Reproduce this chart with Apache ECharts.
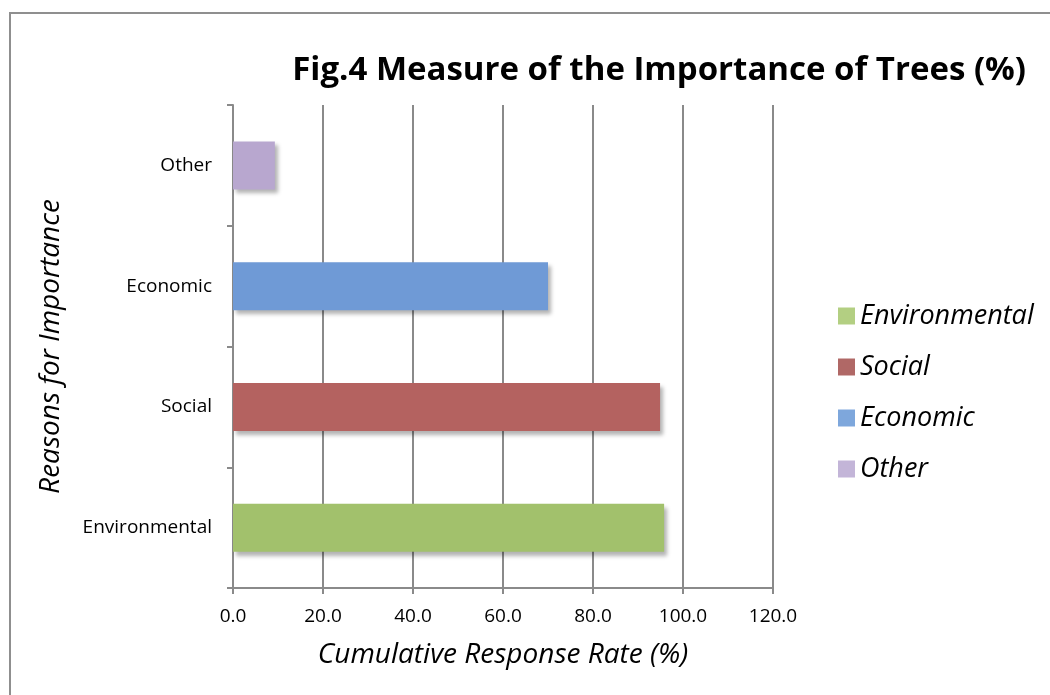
<!DOCTYPE html>
<html><head><meta charset="utf-8">
<script src="https://cdn.jsdelivr.net/npm/echarts@6/dist/echarts.min.js"></script>
<style>html,body{margin:0;padding:0;background:#fff}#c{width:1050px;height:695px}</style>
</head><body><div id="c"></div>
<script>
const categories = ['Environmental', 'Social', 'Economic', 'Other'];
const values = [95.8, 94.9, 70.0, 9.3];
const colors = ['#a2c16c', '#b46260', '#6f9ad6', '#b8a7cf'];
const legendColors = ['#b3cf82', '#b06866', '#7ea7dc', '#c3b5d8'];
const xTicks = { min: 0, max: 120, interval: 20 };

const series = categories.map((name, i) => ({
  name: name,
  type: 'bar',
  stack: 'all',
  barWidth: 48,
  data: values.map((v, j) => (j === i ? v : '-')),
  itemStyle: {
    color: colors[i],
    shadowColor: 'rgba(0,0,0,0.3)',
    shadowBlur: 4,
    shadowOffsetX: 3,
    shadowOffsetY: 4
  }
}));

const chart = echarts.init(document.getElementById('c'), null, { renderer: 'canvas' });
chart.setOption({
  animation: false,
  backgroundColor: '#fff',
  textStyle: { fontFamily: 'Open Sans' },
  title: {
    text: 'Fig.4 Measure of the Importance of Trees (%)',
    right: 19, top: 49,
    textStyle: { fontFamily: 'Open Sans', fontWeight: 'bold', fontSize: 33, color: '#000' }
  },
  legend: {
    orient: 'vertical',
    left: 833, top: 296,
    itemWidth: 17, itemHeight: 17, itemGap: 21,
    icon: 'rect',
    data: categories.map((c, i) => ({ name: c, itemStyle: { color: legendColors[i], shadowBlur: 0, shadowOffsetX: 0, shadowOffsetY: 0 } })),
    textStyle: { fontFamily: 'Open Sans', fontStyle: 'italic', fontSize: 27, color: '#000', lineHeight: 30, padding: [0, 0, 0, 0] }
  },
  grid: { left: 233, right: 277, top: 105, bottom: 107, containLabel: false },
  xAxis: {
    type: 'value',
    min: xTicks.min, max: xTicks.max, interval: xTicks.interval,
    name: 'Cumulative Response Rate (%)',
    nameLocation: 'middle', nameGap: 53,
    nameTextStyle: { fontFamily: 'Open Sans', fontStyle: 'italic', fontSize: 28, color: '#000' },
    axisLine: { show: true, lineStyle: { color: '#8a8a8a', width: 2 } },
    axisTick: { show: true, length: 6, lineStyle: { color: '#8a8a8a', width: 2 } },
    axisLabel: { margin: 19, fontSize: 19, color: '#000', formatter: v => v.toFixed(1) },
    splitLine: { show: true, lineStyle: { color: '#8a8a8a', width: 2 } }
  },
  yAxis: {
    type: 'category',
    data: categories,
    name: 'Reasons for Importance',
    nameLocation: 'middle', nameGap: 168,
    nameTextStyle: { fontFamily: 'Open Sans', fontStyle: 'italic', fontSize: 28, color: '#000' },
    axisLine: { show: true, lineStyle: { color: '#8a8a8a', width: 2 } },
    axisTick: { show: true, length: 6, alignWithLabel: false, lineStyle: { color: '#8a8a8a', width: 2 } },
    axisLabel: { margin: 21, fontSize: 19, color: '#000' },
    splitLine: { show: false }
  },
  graphic: [{
    type: 'rect',
    shape: { x: 10, y: 13, width: 1100, height: 750 },
    style: { fill: 'none', stroke: '#8f8f8f', lineWidth: 2 },
    silent: true, z: 100
  }],
  series: series
});
</script></body></html>
